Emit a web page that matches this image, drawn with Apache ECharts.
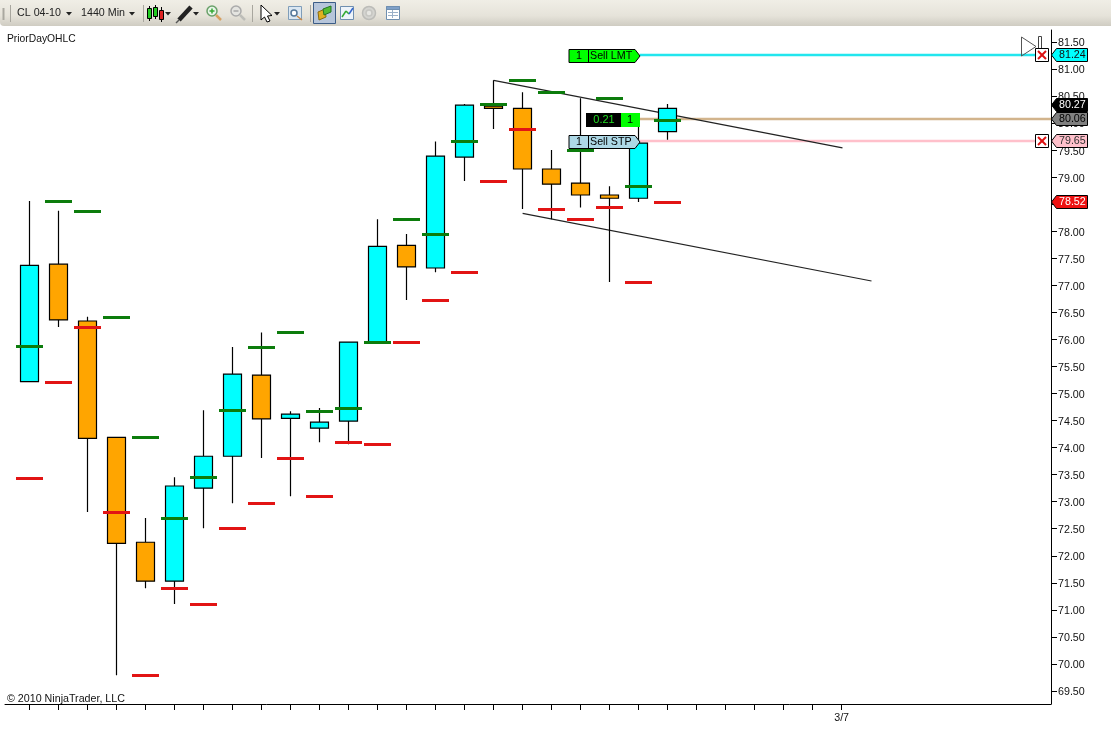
<!DOCTYPE html>
<html>
<head>
<meta charset="utf-8">
<title>CL 04-10 1440 Min</title>
<script src="https://cdn.jsdelivr.net/npm/echarts@6/dist/echarts.min.js"></script>
<style>
  html, body { margin: 0; padding: 0; background: #fff; }
  #main { width: 1111px; height: 730px; }
</style>
</head>
<body>
<div id="main"></div>
<script>
// daily bars
var opens  = [75.22, 77.39, 76.34, 74.19, 72.25, 71.53, 73.25, 73.84, 75.34, 74.54, 74.36, 74.49, 75.95, 77.74, 77.32, 79.37, 80.31, 80.27, 79.15, 78.89, 78.67, 78.61, 79.84];
var closes = [77.37, 76.36, 74.17, 72.23, 71.53, 73.29, 73.84, 75.36, 74.53, 74.62, 74.47, 75.95, 77.72, 77.34, 79.39, 80.33, 80.27, 79.15, 78.87, 78.67, 78.61, 79.63, 80.27];
var lows   = [75.21, 76.23, 72.81, 69.79, 71.40, 71.11, 72.51, 72.97, 73.81, 73.10, 74.10, 74.06, 75.95, 76.73, 77.24, 78.93, 79.89, 78.41, 78.22, 78.44, 77.06, 78.54, 79.69];
var highs  = [78.56, 78.38, 76.42, 74.19, 72.70, 73.45, 74.69, 75.86, 76.13, 74.67, 74.73, 75.95, 78.22, 77.95, 79.66, 80.35, 80.79, 80.57, 79.50, 80.46, 78.83, 80.05, 80.35];

// PriorDayOHLC indicator
var priorHigh = [75.88, 78.56, 78.38, 76.42, 74.19, 72.70, 73.45, 74.69, 75.86, 76.13, 74.67, 74.73, 75.95, 78.22, 77.95, 79.66, 80.35, 80.79, 80.57, 79.50, 80.46, 78.83, 80.05];
var priorLow  = [73.44, 75.21, 76.23, 72.81, 69.79, 71.40, 71.11, 72.51, 72.97, 73.81, 73.10, 74.10, 74.06, 75.95, 76.73, 77.24, 78.93, 79.89, 78.41, 78.22, 78.44, 77.06, 78.54];

// hand drawn trend lines [bar, price]
var upperTrend = [[16, 80.79], [28.03, 79.54]];
var lowerTrend = [[17, 78.33], [29.03, 77.08]];

// ticks
var yTicks = [69.5, 70, 70.5, 71, 71.5, 72, 72.5, 73, 73.5, 74, 74.5, 75, 75.5, 76, 76.5, 77, 77.5, 78, 78.5, 79, 79.5, 80, 80.5, 81, 81.5];
var xTicks = [0, 1, 2, 3, 4, 5, 6, 7, 8, 9, 10, 11, 12, 13, 14, 15, 16, 17, 18, 19, 20, 21, 22, 23, 24, 25, 26, 27, 28];
var xLabelBars = [28];
var xLabelTexts = ['3/7'];

// price tags on the right axis
var tagPrices = [81.24, 80.27, 80.06, 79.65, 78.52];
var tagFills = ['#00ffff', '#000000', '#808080', '#ffc0cb', '#ee1111'];
var tagInks = ['#111111', '#ffffff', '#000000', '#333333', '#ffffff'];
var tagNudge = [-1, -3, -1, -1, -1]; // the platform pushes colliding tags apart

// working orders and the position
var levelPrices = [81.24, 80.06, 79.65];
var levelColors = ['#22e6ee', '#d2b48c', '#ffc0cb'];
var levelEnds = [34.69, 35.22, 34.69];
var orderPrices = [81.24, 79.65];
var orderQty = ['1', '1'];
var orderNames = ['Sell LMT', 'Sell STP'];
var orderFills = ['#00ff00', '#add8e6'];
var positionPrice = 80.06;
var positionPnl = '0.21';
var positionQty = '1';
var cancelPrices = [81.24, 79.65];

var FONT = '"Liberation Sans", Arial, sans-serif';
var TIP_BAR = 21.04; // all flags end here

function dashSeries(name, values, color) {
  return {
    name: name,
    type: 'custom',
    z: 5,
    data: values.map(function (v, i) { return [i, v]; }),
    encode: { x: 0, y: 1 },
    renderItem: function (params, api) {
      var p = api.coord([api.value(0), api.value(1)]);
      return {
        type: 'rect',
        shape: { x: Math.round(p[0]) - 14, y: Math.round(p[1]) - 1, width: 27, height: 3 },
        style: { fill: color }
      };
    }
  };
}

function trendSeries(name, points) {
  return {
    name: name,
    type: 'line',
    z: 3,
    data: points,
    symbol: 'none',
    lineStyle: { color: '#222222', width: 1.2 }
  };
}

function renderLevel(params, api) {
  var i = params.dataIndex;
  var a = api.coord([TIP_BAR, api.value(0)]);
  var b = api.coord([levelEnds[i], api.value(0)]);
  var y = Math.round(a[1]) - 1;
  return {
    type: 'line',
    shape: { x1: a[0], y1: y, x2: b[0], y2: y },
    style: { stroke: levelColors[i], lineWidth: 2.4 }
  };
}

function renderOrderFlag(params, api) {
  var i = params.dataIndex;
  var p = api.coord([TIP_BAR, api.value(0)]);
  var x = Math.round(p[0]);
  var y = Math.round(p[1]);
  return {
    type: 'group',
    children: [
      {
        type: 'polygon',
        shape: { points: [[x - 71, y - 6.5], [x - 5, y - 6.5], [x, y], [x - 5, y + 6.5], [x - 71, y + 6.5]] },
        style: { fill: orderFills[i], stroke: '#000', lineWidth: 1 }
      },
      { type: 'line', shape: { x1: x - 51.5, y1: y - 6, x2: x - 51.5, y2: y + 6 }, style: { stroke: '#000', lineWidth: 1 } },
      { type: 'text', style: { x: x - 61, y: y, text: orderQty[i], fill: '#000', font: '10.7px ' + FONT, align: 'center', verticalAlign: 'middle' } },
      { type: 'text', style: { x: x - 50, y: y, text: orderNames[i], fill: '#000', font: '10.7px ' + FONT, align: 'left', verticalAlign: 'middle' } }
    ]
  };
}

function renderPosition(params, api) {
  var p = api.coord([TIP_BAR, api.value(0)]);
  var x = Math.round(p[0]);
  var y = Math.round(p[1]);
  return {
    type: 'group',
    children: [
      { type: 'rect', shape: { x: x - 54, y: y - 7, width: 35, height: 14 }, style: { fill: '#000' } },
      { type: 'rect', shape: { x: x - 19, y: y - 7, width: 19, height: 14 }, style: { fill: '#00ff00' } },
      { type: 'text', style: { x: x - 36, y: y, text: positionPnl, fill: '#22dd22', font: '11px ' + FONT, align: 'center', verticalAlign: 'middle' } },
      { type: 'text', style: { x: x - 10, y: y, text: positionQty, fill: '#000', font: '11px ' + FONT, align: 'center', verticalAlign: 'middle' } }
    ]
  };
}

function renderCancel(params, api) {
  var p = api.coord([34.91, api.value(0)]);
  var x = Math.round(p[0]);
  var y = Math.round(p[1]) - 1;
  return {
    type: 'group',
    children: [
      { type: 'rect', shape: { x: x - 6.5, y: y - 6.5, width: 13, height: 13 }, style: { fill: '#fff', stroke: '#000', lineWidth: 1 } },
      { type: 'line', shape: { x1: x - 4, y1: y - 4, x2: x + 4, y2: y + 4 }, style: { stroke: '#dd1111', lineWidth: 2 } },
      { type: 'line', shape: { x1: x + 4, y1: y - 4, x2: x - 4, y2: y + 4 }, style: { stroke: '#dd1111', lineWidth: 2 } }
    ]
  };
}

function renderTag(params, api) {
  var i = params.dataIndex;
  var p = api.coord([35.22, api.value(0)]);
  var x = Math.round(p[0]);
  var y = Math.round(p[1]) + tagNudge[i];
  return {
    type: 'group',
    children: [
      {
        type: 'polygon',
        shape: { points: [[x + 0.5, y], [x + 5.5, y - 6.5], [x + 36.5, y - 6.5], [x + 36.5, y + 6.5], [x + 5.5, y + 6.5]] },
        style: { fill: tagFills[i], stroke: '#000', lineWidth: 1 }
      },
      { type: 'text', style: { x: x + 8, y: y, text: tagPrices[i].toFixed(2), fill: tagInks[i], font: '10.7px ' + FONT, align: 'left', verticalAlign: 'middle' } }
    ]
  };
}

// toolbar pieces, plain graphic elements
function tbRect(x, y, w, h, fill, stroke) {
  return { type: 'rect', shape: { x: x, y: y, width: w, height: h }, style: { fill: fill, stroke: stroke || null, lineWidth: 1 } };
}
function tbLine(x1, y1, x2, y2, color, width) {
  return { type: 'line', shape: { x1: x1, y1: y1, x2: x2, y2: y2 }, style: { stroke: color, lineWidth: width || 1 } };
}
function tbText(x, text) {
  return { type: 'text', style: { x: x, y: 13.5, text: text, fill: '#222', font: '10.7px ' + FONT, align: 'left', verticalAlign: 'middle' } };
}
function tbArrow(x) {
  return { type: 'polygon', shape: { points: [[x - 3, 12], [x + 3, 12], [x, 15.5]] }, style: { fill: '#222' } };
}
function tbCircle(x, y, r, fill, stroke) {
  return { type: 'circle', shape: { cx: x, cy: y, r: r }, style: { fill: fill, stroke: stroke, lineWidth: 1.5 } };
}

var toolbar = [
  {
    type: 'rect',
    shape: { x: 0, y: 0, width: 1111, height: 26, r: [0, 0, 0, 4] },
    style: {
      fill: new echarts.graphic.LinearGradient(0, 0, 0, 1, [
        { offset: 0, color: '#f0eee6' },
        { offset: 0.6, color: '#e6e3da' },
        { offset: 1, color: '#cfccc2' }
      ])
    }
  },
  tbLine(3.5, 8, 3.5, 20, '#aaa8a0', 2),
  tbLine(10.5, 5, 10.5, 22, '#a8a69e'),
  tbText(17, 'CL 04-10'), tbArrow(69),
  tbText(81, '1440 Min'), tbArrow(132),
  tbLine(143.5, 5, 143.5, 22, '#a8a69e'),
  // candle icon
  tbLine(149.5, 6, 149.5, 21, '#000'), tbRect(147.5, 8.5, 4, 10, '#22cc22', '#000'),
  tbLine(155.5, 5, 155.5, 19, '#000'), tbRect(153.5, 7.5, 4, 9, '#22cc22', '#000'),
  tbLine(161.5, 7, 161.5, 22, '#000'), tbRect(159.5, 10.5, 4, 9, '#dd2222', '#000'),
  tbArrow(168),
  // pen icon
  tbLine(179, 20, 191, 7, '#222', 4.5), tbLine(176, 23, 179, 20, '#555', 1.5), tbArrow(196),
  // zoom in / zoom out
  tbCircle(212, 11, 5, '#e8f4e8', '#6aa06a'), tbLine(209.5, 11, 214.5, 11, '#33aa33', 1.5), tbLine(212, 8.5, 212, 13.5, '#33aa33', 1.5), tbLine(216, 15, 221, 20, '#d8a060', 2.5),
  tbCircle(236, 11, 5, '#e4e4e0', '#aaaaaa'), tbLine(233.5, 11, 238.5, 11, '#a8a8a8', 1.5), tbLine(240, 15, 245, 20, '#bdbdb8', 2.5),
  tbLine(252.5, 5, 252.5, 22, '#a8a69e'),
  // cursor
  { type: 'polygon', shape: { points: [[261, 5], [261, 20], [264.5, 17], [267, 22], [270, 21], [267.5, 16], [272, 15.5]] }, style: { fill: '#fff', stroke: '#000', lineWidth: 1 } },
  tbArrow(277),
  // data box
  tbRect(288.5, 6.5, 13, 13, '#dbe7f2', '#7f9db9'), tbCircle(294, 13, 3, '#ffffff', '#557799'), tbLine(297, 16, 302, 20, '#cc8844', 1.5),
  tbLine(310.5, 5, 310.5, 22, '#a8a69e'),
  // chart trader, pressed
  tbRect(313.5, 2.5, 22, 21, '#b6c5da', '#3b5c86'),
  { type: 'polygon', shape: { points: [[318, 12], [325, 9], [326, 17], [319, 20]] }, style: { fill: '#e0b020', stroke: '#8a6a10', lineWidth: 1 } },
  { type: 'polygon', shape: { points: [[323, 9], [331, 6], [331, 12], [324, 15]] }, style: { fill: '#55bb33', stroke: '#227722', lineWidth: 1 } },
  // other buttons
  tbRect(340.5, 6.5, 13, 13, '#eef4fa', '#6f8fb0'), tbLine(342, 17, 346, 11, '#33aa33', 1.5), tbLine(346, 11, 349, 14, '#33aa33', 1.5), tbLine(349, 14, 353, 8, '#3366cc', 1.5),
  tbCircle(369, 13, 6.5, '#d4d4d0', '#bcbcb8'), tbCircle(369, 13, 3, '#e6e6e2', '#c6c6c2'),
  tbRect(386.5, 6.5, 13, 13, '#ffffff', '#6f8fb0'), tbRect(386.5, 6.5, 13, 3, '#7fa0c8', '#6f8fb0'),
  tbLine(388, 12.5, 398, 12.5, '#9ab0c8'), tbLine(388, 15.5, 398, 15.5, '#9ab0c8'), tbLine(392.5, 10, 392.5, 18, '#9ab0c8')
];

// little marker top right, next to the last order
var sideMarks = [
  { type: 'polygon', shape: { points: [[1021.5, 37], [1021.5, 56], [1036, 46.5]] }, style: { fill: 'rgba(255,255,255,0)', stroke: '#555', lineWidth: 1 }, z: 6 },
  { type: 'rect', shape: { x: 1038.5, y: 36.5, width: 3, height: 21 }, style: { fill: 'rgba(255,255,255,0)', stroke: '#444', lineWidth: 1 }, z: 6 }
];

var chart = echarts.init(document.getElementById('main'), null, { renderer: 'canvas' });
chart.setOption({
  animation: false,
  backgroundColor: '#ffffff',
  textStyle: { fontFamily: FONT },
  grid: { left: 5, right: 60, top: 30, bottom: 26 },
  xAxis: {
    type: 'value',
    min: -0.848,
    max: 35.22,
    splitLine: { show: false },
    axisLine: { onZero: false, lineStyle: { color: '#000', width: 1 } },
    axisTick: { length: 6, customValues: xTicks, lineStyle: { color: '#000', width: 1 } },
    axisLabel: {
      customValues: xLabelBars,
      color: '#111',
      fontSize: 10.7,
      margin: 9,
      formatter: function (v) { return xLabelTexts[xLabelBars.indexOf(v)] || ''; }
    }
  },
  yAxis: {
    type: 'value',
    position: 'right',
    min: 69.26,
    max: 81.72,
    scale: true,
    splitLine: { show: false },
    axisLine: { show: true, onZero: false, lineStyle: { color: '#000', width: 1 } },
    axisTick: { show: true, length: 6, customValues: yTicks, lineStyle: { color: '#000', width: 1 } },
    axisLabel: {
      customValues: yTicks,
      color: '#111',
      fontSize: 10.7,
      margin: 7,
      formatter: function (v) { return '{p|' + v.toFixed(2) + '}'; },
      rich: { p: { fontSize: 10.7, color: '#111', padding: [3, 0, 0, 0] } }
    }
  },
  series: [
    {
      name: 'levels',
      type: 'custom',
      z: 2,
      data: levelPrices.map(function (v) { return [v]; }),
      encode: { y: 0 },
      renderItem: renderLevel
    },
    trendSeries('upper trend', upperTrend),
    trendSeries('lower trend', lowerTrend),
    {
      name: 'CL 04-10',
      type: 'candlestick',
      z: 4,
      barWidth: 18,
      data: opens.map(function (o, i) { return [i, o, closes[i], lows[i], highs[i]]; }),
      encode: { x: 0, y: [1, 2, 3, 4] },
      itemStyle: {
        color: '#00ffff',
        color0: '#ffa500',
        borderColor: '#000',
        borderColor0: '#000',
        borderWidth: 1.2
      }
    },
    dashSeries('prior high', priorHigh, '#0c7c0c'),
    dashSeries('prior low', priorLow, '#e21414'),
    {
      name: 'orders',
      type: 'custom',
      z: 6,
      data: orderPrices.map(function (v) { return [v]; }),
      encode: { y: 0 },
      renderItem: renderOrderFlag
    },
    {
      name: 'position',
      type: 'custom',
      z: 6,
      data: [[positionPrice]],
      encode: { y: 0 },
      renderItem: renderPosition
    },
    {
      name: 'cancel',
      type: 'custom',
      z: 7,
      data: cancelPrices.map(function (v) { return [v]; }),
      encode: { y: 0 },
      renderItem: renderCancel
    },
    {
      name: 'tags',
      type: 'custom',
      z: 7,
      data: tagPrices.map(function (v) { return [v]; }),
      encode: { y: 0 },
      renderItem: renderTag
    }
  ],
  graphic: [
    { type: 'group', silent: true, children: toolbar },
    { type: 'group', silent: true, children: sideMarks },
    { type: 'text', left: 7, top: 34, style: { text: 'PriorDayOHLC', fill: '#111', font: '10.3px ' + FONT } },
    { type: 'text', left: 7, top: 694, style: { text: '\u00a9 2010 NinjaTrader, LLC', fill: '#111', font: '10.7px ' + FONT } }
  ]
});
</script>
</body>
</html>
